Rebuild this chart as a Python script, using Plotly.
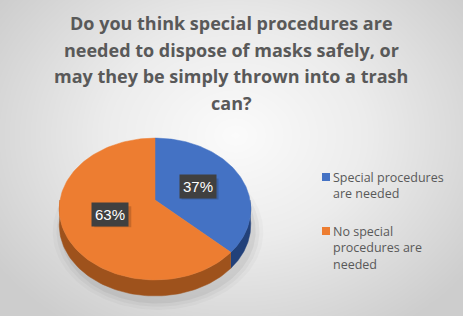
import numpy as np
import plotly.graph_objects as go

# ---- data ----
labels = ["Special procedures are needed", "No special procedures are needed"]
values = [37, 63]
colors = ["#4472C4", "#ED7D31"]
side_colors = ["#22417A", "#9E521C"]
legend_text = ["Special procedures<br>are needed",
               "No special<br>procedures are<br>needed"]
title_lines = ["Do you think special procedures are",
               "needed to dispose of masks safely, or",
               "may they be simply thrown into a trash",
               "can?"]

# ---- canvas in pixel units ----
W, H = 463, 316
CX, CY, RX, A, K, DEPTH = 155, 200, 95, 69.8, 0.127, 16


def project(theta, r=1.0):
    """Tilted disc with a little perspective: theta clockwise from 12 o'clock."""
    u = r * np.sin(theta)
    v = r * np.cos(theta)
    d = 1 + K * v
    return CX + RX * u / d, CY - A * v / d


fig = go.Figure()

# soft radial background
gx = np.linspace(0, W, 70)
gy = np.linspace(0, H, 50)
XX, YY = np.meshgrid(gx, gy)
Z = np.clip(np.sqrt(((XX - 235) / 290) ** 2 + ((YY - 135) / 230) ** 2), 0, 1)
fig.add_trace(go.Heatmap(x=gx, y=gy, z=Z, zmin=0, zmax=1, zsmooth="best",
                         colorscale=[[0, "#fbfbfb"], [0.45, "#ececec"], [1, "#cdcdcd"]],
                         showscale=False, hoverinfo="skip"))

# drop shadow under the pie
full = np.linspace(0, 2 * np.pi, 200)
for s, alpha in [(1.10, 0.025), (1.06, 0.035), (1.02, 0.05)]:
    sx, sy = project(full, 1.0)
    sx = CX + (sx - CX) * s + 3
    sy = CY + (sy - CY) * s + DEPTH + 6
    fig.add_trace(go.Scatter(x=sx, y=sy, fill="toself", mode="lines", line=dict(width=0),
                             fillcolor=f"rgba(0,0,0,{alpha})", hoverinfo="skip", showlegend=False))

total = sum(values)
bounds = np.concatenate([[0], np.cumsum(values) / total * 2 * np.pi])

# side walls (front half only)
for i in range(len(values)):
    t0, t1 = max(bounds[i], np.pi / 2), min(bounds[i + 1], 3 * np.pi / 2)
    if t1 <= t0:
        continue
    t = np.linspace(t0, t1, 80)
    ex, ey = project(t)
    px = np.concatenate([ex, ex[::-1]])
    py = np.concatenate([ey, ey[::-1] + DEPTH])
    fig.add_trace(go.Scatter(x=px, y=py, fill="toself", mode="lines",
                             line=dict(width=0.5, color=side_colors[i]),
                             fillcolor=side_colors[i], hoverinfo="skip", showlegend=False))

# top faces
for i in range(len(values)):
    t = np.linspace(bounds[i], bounds[i + 1], 120)
    ex, ey = project(t)
    px = np.concatenate([[CX], ex, [CX]])
    py = np.concatenate([[CY], ey, [CY]])
    fig.add_trace(go.Scatter(x=px, y=py, fill="toself", mode="lines",
                             line=dict(width=0.5, color=colors[i]),
                             fillcolor=colors[i], name=labels[i], showlegend=False,
                             hoverinfo="name"))

annotations = []
shapes = []

# percentage labels in dark boxes with a faint drop shadow
for i, v in enumerate(values):
    mid = (bounds[i] + bounds[i + 1]) / 2
    lx, ly = project(mid, 0.5)
    pct = f"{round(v / total * 100)}%"
    shapes.append(dict(type="rect", xref="x", yref="y", layer="above",
                       x0=lx - 16, x1=lx + 21, y0=ly - 8, y1=ly + 13,
                       fillcolor="rgba(0,0,0,0.16)", line=dict(width=0)))
    annotations.append(dict(x=lx, y=ly, text=pct, showarrow=False,
                            font=dict(size=15, color="white",
                                      family="Liberation Sans Narrow, Arial Narrow, sans-serif"),
                            bgcolor="#404040", borderpad=3))

# title
for j, line in enumerate(title_lines):
    annotations.append(dict(x=231, y=23 + j * 26.5, text=f"<b>{line}</b>", showarrow=False,
                            xanchor="center", yanchor="middle",
                            font=dict(size=18, color="#595959", family="Open Sans, sans-serif")))

# legend
starts = [177, 231]
for i, txt in enumerate(legend_text):
    y0 = starts[i]
    shapes.append(dict(type="rect", xref="x", yref="y", x0=322, x1=330, y0=y0 - 4, y1=y0 + 4,
                       fillcolor=colors[i], line=dict(width=0)))
    annotations.append(dict(x=332, y=y0 - 9, text=txt, showarrow=False,
                            xanchor="left", yanchor="top", align="left", borderpad=0,
                            font=dict(size=12.5, color="#595959", family="Open Sans, sans-serif")))

fig.update_layout(
    width=W, height=H, margin=dict(l=0, r=0, t=0, b=0),
    paper_bgcolor="#e6e6e6", plot_bgcolor="#e6e6e6",
    xaxis=dict(range=[0, W], visible=False, fixedrange=True, domain=[0, 1]),
    yaxis=dict(range=[H, 0], visible=False, fixedrange=True, domain=[0, 1]),
    annotations=annotations, shapes=shapes, showlegend=False,
)

fig.write_html("out.html")
